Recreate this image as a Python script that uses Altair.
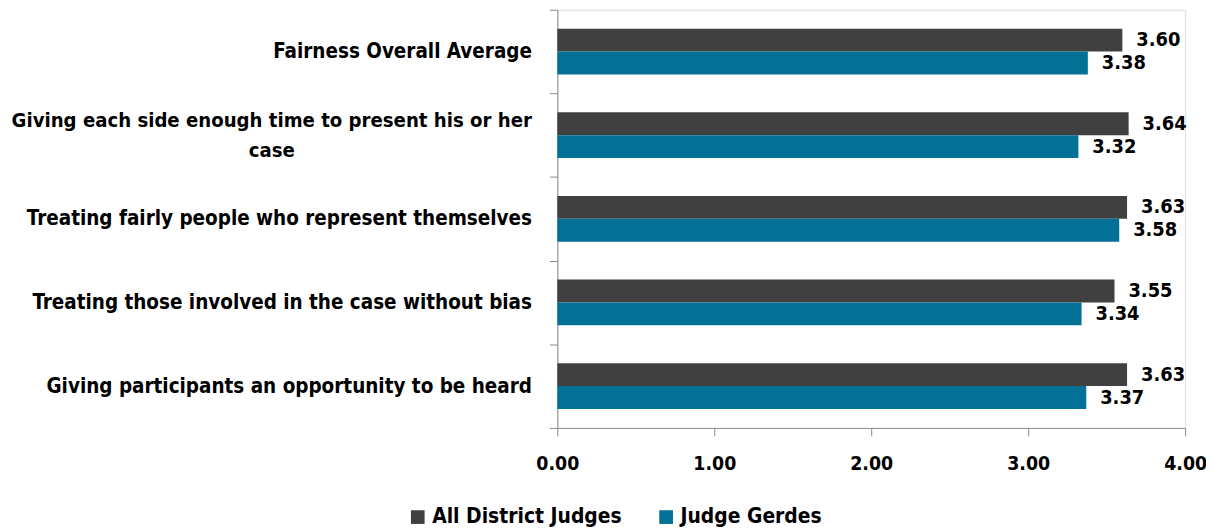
import altair as alt
import pandas as pd

categories = [
    "Fairness Overall Average",
    "Giving each side enough time to present his or her case",
    "Treating fairly people who represent themselves",
    "Treating those involved in the case without bias",
    "Giving participants an opportunity to be heard",
]
series = ["All District Judges", "Judge Gerdes"]
all_district = [3.60, 3.64, 3.63, 3.55, 3.63]
gerdes = [3.38, 3.32, 3.58, 3.34, 3.37]
x_ticks = [0, 1, 2, 3, 4]
colors = ["#404040", "#037096"]

rows = []
for c, a, g in zip(categories, all_district, gerdes):
    rows.append({"category": c, "series": series[0], "value": a})
    rows.append({"category": c, "series": series[1], "value": g})
df = pd.DataFrame(rows)

FONT = "Liberation Sans Narrow, Arial Narrow, DejaVu Sans Condensed, sans-serif"
long_cat = categories[1]
label_expr = (
    f"datum.value == '{long_cat}' ? "
    "['Giving each side enough time to present his or her', 'case'] : datum.value"
)
is_long = f"datum.value == '{long_cat}'"

y_enc = alt.Y(
    "category:N",
    sort=categories,
    scale=alt.Scale(paddingInner=0, paddingOuter=0),
    axis=alt.Axis(
        title=None,
        labelExpr=label_expr,
        labelFont=FONT,
        labelFontSize={"condition": {"test": is_long, "value": 20.3}, "value": 20.6},
        labelFontWeight="bold",
        labelColor="black",
        labelLimit=700,
        labelLineHeight=30,
        labelAlign={"condition": {"test": is_long, "value": "center"}, "value": "right"},
        labelPadding={"condition": {"test": is_long, "value": 280}, "value": 18},
        labelOffset={"condition": {"test": is_long, "value": -15}, "value": 0},
        tickBand="extent",
        tickSize=8,
        tickColor="#8c8c8c",
        domainColor="#8c8c8c",
        grid=False,
    ),
)
yoff_enc = alt.YOffset(
    "series:N", sort=series, scale=alt.Scale(paddingOuter=0.83, paddingInner=0)
)
x_enc = alt.X(
    "value:Q",
    scale=alt.Scale(domain=[0, 4], nice=False),
    axis=alt.Axis(
        title=None,
        values=x_ticks,
        format=".2f",
        labelFont=FONT,
        labelFontSize=19.5,
        labelFontWeight="bold",
        labelColor="black",
        labelPadding=19,
        labelFlush=False,
        tickSize=8,
        tickColor="#8c8c8c",
        domainColor="#8c8c8c",
        grid=False,
    ),
)
color_enc = alt.Color(
    "series:N",
    sort=series,
    scale=alt.Scale(domain=series, range=colors),
    legend=alt.Legend(
        title=None,
        orient="none",
        legendX=-151,
        legendY=500,
        direction="horizontal",
        symbolType="square",
        symbolSize=190,
        symbolStrokeWidth=0,
        labelFont=FONT,
        labelFontSize=21,
        labelFontWeight="bold",
        labelColor="black",
        columnPadding=34,
        labelLimit=400,
    ),
)

base = alt.Chart(df)
bars = base.mark_bar().encode(y=y_enc, yOffset=yoff_enc, x=x_enc, color=color_enc)
labels = base.mark_text(
    align="left",
    baseline="middle",
    dx=14,
    font=FONT,
    fontSize=20,
    fontWeight="bold",
    color="black",
).encode(
    y=alt.Y("category:N", sort=categories),
    yOffset=alt.YOffset("series:N", sort=series),
    x="value:Q",
    text=alt.Text("value:Q", format=".2f"),
)

chart = (
    alt.layer(bars, labels)
    .properties(
        width=632,
        height=421,
        autosize=alt.AutoSizeParams(type="none"),
        padding={"left": 553, "top": 0, "right": 21, "bottom": 100},
    )
    .configure_view(strokeWidth=0, stroke="transparent")
    .configure(background="white")
)

chart.save("out.html", embed_options={"renderer": "svg", "actions": False})
